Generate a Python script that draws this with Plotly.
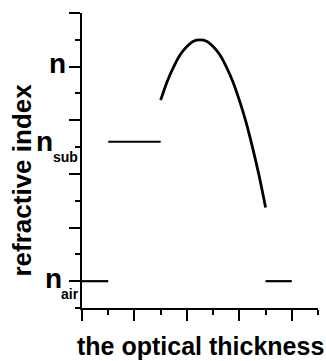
import plotly.graph_objects as go

# Refractive-index profile along the optical thickness
air_left_x = [0, 1]
air_left_y = [1, 1]

sub_x = [1, 3]
sub_y = [6.2, 6.2]

film_x = [3.0, 3.25, 3.5, 3.75, 4.0, 4.25, 4.5, 4.75, 5.0, 5.25, 5.5, 5.75, 6.0, 6.25, 6.5, 6.75, 7.0]
film_y = [7.75, 8.45, 9.0, 9.45, 9.75, 9.95, 10.0, 9.95, 9.75, 9.45, 9.0, 8.45, 7.75, 6.95, 6.0, 4.95, 3.75]

air_right_x = [7, 8]
air_right_y = [1, 1]

# y-axis level labels: value, main symbol, subscript
label_values = [9, 6, 1]
label_main = ["n", "n", "n"]
label_sub = ["", "sub", "air"]

x_title = "the optical thickness"
y_title = "refractive index"

FONT = "Liberation Sans, Arial, sans-serif"

# pixel placement of the level labels (main symbol shift, subscript shift)
label_layout = {
    "": dict(main=(-14, 3), sub=None),
    "sub": dict(main=(-27, 6), sub=(-2, -10)),
    "air": dict(main=(-18, 3), sub=(-1, -13)),
}

fig = go.Figure()
for xs, ys, w in [(air_left_x, air_left_y, 2.2), (sub_x, sub_y, 2.2),
                  (film_x, film_y, 2.8), (air_right_x, air_right_y, 2.2)]:
    fig.add_trace(go.Scatter(x=xs, y=ys, mode="lines", line_shape="spline",
                             line=dict(color="black", width=w),
                             showlegend=False, hoverinfo="skip"))

axis_common = dict(showgrid=False, zeroline=False, showline=True, linecolor="black",
                   linewidth=2, ticks="outside", tickcolor="black", tickwidth=2,
                   ticklen=11, showticklabels=False, mirror=False)
minor_ticks = dict(dtick=1, ticks="outside", ticklen=5, tickwidth=2,
                   tickcolor="black", showgrid=False)

fig.update_xaxes(range=[0, 9], tick0=0, dtick=2, minor=minor_ticks, **axis_common)
fig.update_yaxes(range=[0, 11], tick0=1, dtick=2, minor=minor_ticks, **axis_common)

annotations = []
for val, main, sub in zip(label_values, label_main, label_sub):
    lay = label_layout[sub]
    mx, my = lay["main"]
    annotations.append(dict(x=0, xref="paper", y=val, yref="y", text=f"<b>{main}</b>",
                            showarrow=False, xanchor="right", yanchor="middle",
                            xshift=mx, yshift=my, font=dict(family=FONT, size=28, color="black")))
    if sub:
        sx, sy = lay["sub"]
        annotations.append(dict(x=0, xref="paper", y=val, yref="y", text=f"<b>{sub}</b>",
                                showarrow=False, xanchor="right", yanchor="middle",
                                xshift=sx, yshift=sy, font=dict(family=FONT, size=14, color="black")))

annotations.append(dict(x=0.5, xref="paper", y=0, yref="paper", text=f"<b>{x_title}</b>",
                        showarrow=False, xanchor="center", yanchor="top", yshift=-22,
                        font=dict(family=FONT, size=25, color="black")))
annotations.append(dict(x=0, xref="paper", y=0.5, yref="paper", text=f"<b>{y_title}</b>",
                        showarrow=False, xanchor="right", yanchor="middle", textangle=-90,
                        xshift=-44, yshift=-20, font=dict(family=FONT, size=26, color="black")))

fig.update_layout(width=326, height=361, margin=dict(l=82, r=8, t=13, b=53),
                  plot_bgcolor="white", paper_bgcolor="white", annotations=annotations)

fig.write_html("out.html")
